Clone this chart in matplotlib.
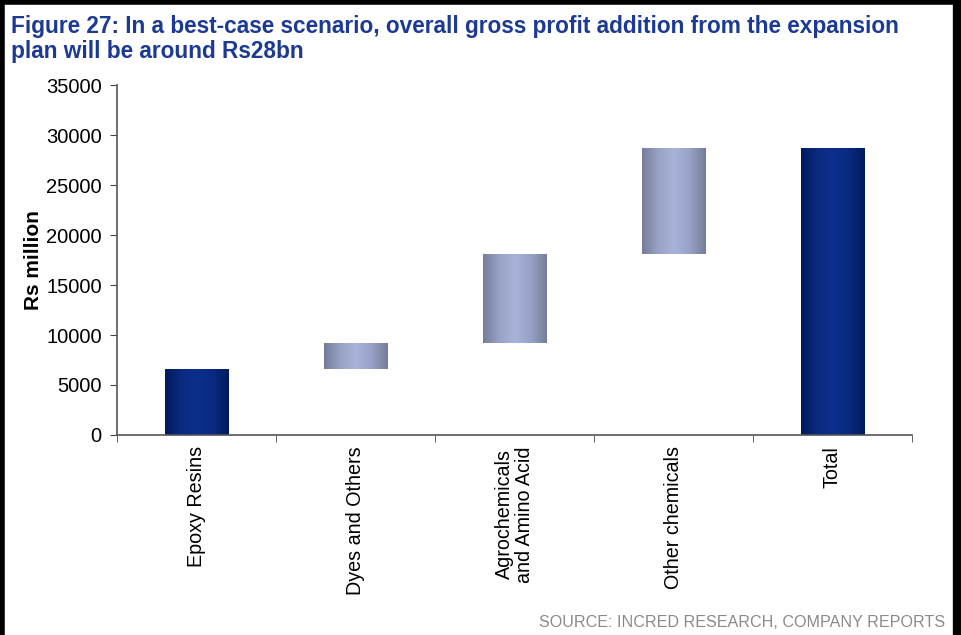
import numpy as np
import matplotlib.pyplot as plt
from matplotlib.colors import LinearSegmentedColormap
from matplotlib.lines import Line2D

# data (Rs million)
categories = ["Epoxy Resins", "Dyes and Others", "Agrochemicals\nand Amino Acid",
              "Other chemicals", "Total"]
increments = [6600, 2600, 8900, 10600]
is_total = [True, False, False, False, True]
yticks = [0, 5000, 10000, 15000, 20000, 25000, 30000, 35000]

total = sum(increments)
heights = increments + [total]
bottoms = [0] + list(np.cumsum(increments)[:-1]) + [0]

plt.rcParams['font.family'] = ['Liberation Sans', 'DejaVu Sans']

fig = plt.figure(figsize=(9.62, 6.35), dpi=100)
ax = fig.add_axes([0.1216, 0.315, 0.8264, 0.551])

dark = LinearSegmentedColormap.from_list(
    "dark", ["#001a5c", "#0a2a80", "#0c2f8c", "#0a2a82", "#001a5c"])
light = LinearSegmentedColormap.from_list(
    "light", ["#767c9a", "#98a2c6", "#a8b3d8", "#98a2c6", "#767c9a"])
grad = np.linspace(0, 1, 256).reshape(1, -1)

x = np.arange(len(categories))
width = 0.4
bars = ax.bar(x, heights, width, bottom=bottoms, color="none", edgecolor="none")
for b, tot in zip(bars, is_total):
    x0, y0 = b.get_x(), b.get_y()
    im = ax.imshow(grad, cmap=dark if tot else light, aspect="auto",
                   extent=(x0, x0 + b.get_width(), y0, y0 + b.get_height()),
                   interpolation="bilinear", zorder=2)
    im.set_clip_path(b)

ax.set_xlim(-0.5, len(categories) - 0.5)
ax.set_ylim(0, 35000)
ax.set_yticks(yticks)
ax.set_yticklabels([str(v) for v in yticks], fontsize=14.5)
ax.set_xticks(x)
ax.set_xticklabels(categories, rotation=90, fontsize=14.2, va="top", ha="center",
                   linespacing=1.05)
ax.set_xticks(np.arange(-0.5, len(categories)), minor=True)
ax.tick_params(axis="x", which="major", length=0, pad=8)
ax.tick_params(axis="x", which="minor", length=5, direction="out", color="#444444")
ax.tick_params(axis="y", length=5, direction="out", color="#444444", pad=6)

for s in ["top", "right"]:
    ax.spines[s].set_visible(False)
for s in ["left", "bottom"]:
    ax.spines[s].set_color("#555555")
    ax.spines[s].set_linewidth(1.2)

ax.set_ylabel("Rs million", fontsize=15, fontweight="bold", labelpad=2)

fig.text(0.011, 0.977, "Figure 27: In a best-case scenario, overall gross profit addition from the expansion\nplan will be around Rs28bn",
         fontsize=16.3, fontweight="bold", color="#1c3a94", va="top", ha="left",
         linespacing=1.15)
fig.text(0.982, 0.008, "SOURCE: INCRED RESEARCH, COMPANY REPORTS",
         fontsize=11.6, color="#8a8a8a", ha="right", va="bottom")

# black frame on left, top, right
fig.add_artist(Line2D([0.002, 0.002], [0, 1], color="black", lw=4, transform=fig.transFigure))
fig.add_artist(Line2D([0, 1], [0.997, 0.997], color="black", lw=4, transform=fig.transFigure))
fig.add_artist(Line2D([0.995, 0.995], [0, 1], color="black", lw=6, transform=fig.transFigure))

plt.savefig("out.png", dpi=100)
